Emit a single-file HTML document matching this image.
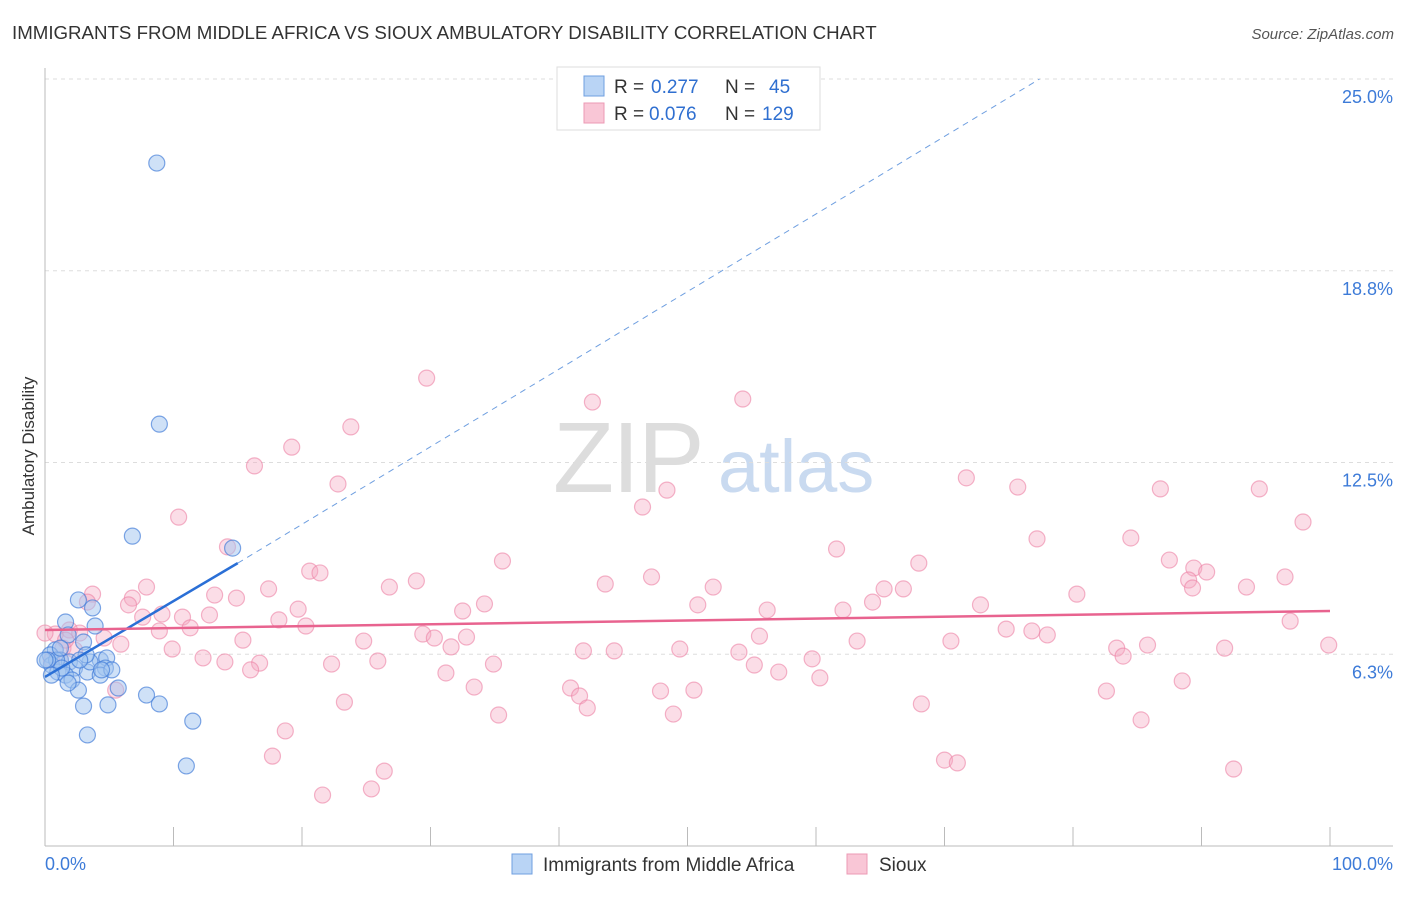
<!DOCTYPE html>
<html><head><meta charset="utf-8"><style>
body{margin:0;background:#fff;font-family:"Liberation Sans",sans-serif}
svg text{font-family:"Liberation Sans",sans-serif}
</style></head><body>
<svg id="chart" width="1406" height="892" xmlns="http://www.w3.org/2000/svg">
<text x="12" y="39" font-size="18.7" fill="#333">IMMIGRANTS FROM MIDDLE AFRICA VS SIOUX AMBULATORY DISABILITY CORRELATION CHART</text>
<text x="1394" y="39" font-size="15" fill="#555" text-anchor="end" font-style="italic">Source: ZipAtlas.com</text>
<g>
<text x="553" y="492" font-size="100" fill="#ddd" font-family="Liberation Serif" letter-spacing="-2">ZIP</text>
<text x="718" y="492" font-size="74" fill="#c9daf0">atlas</text>
</g>
<g id="grid"></g>
<g id="axes"></g>
<g id="marks"></g>
<text transform="translate(34,456) rotate(-90)" font-size="17" fill="#333" text-anchor="middle">Ambulatory Disability</text>
<g>
<rect x="557" y="67" width="263" height="63" fill="#fff" stroke="#ddd"/>
<rect x="584" y="76" width="20" height="20" fill="#b9d4f5" stroke="#6f9fe0"/>
<rect x="584" y="103" width="20" height="20" fill="#f9c6d6" stroke="#ec9ab4"/>
<text x="614" y="93" font-size="19" fill="#333">R =</text>
<text x="651" y="93" font-size="19" fill="#2f6fd0">0.277</text>
<text x="725" y="93" font-size="19" fill="#333">N =</text>
<text x="769" y="93" font-size="19" fill="#2f6fd0">45</text>
<text x="614" y="120" font-size="19" fill="#333">R =</text>
<text x="649" y="120" font-size="19" fill="#2f6fd0">0.076</text>
<text x="725" y="120" font-size="19" fill="#333">N =</text>
<text x="762" y="120" font-size="19" fill="#2f6fd0">129</text>
</g>
<g>
<rect x="512" y="854" width="20" height="20" fill="#b9d4f5" stroke="#6f9fe0"/>
<text x="543" y="871" font-size="19" fill="#333">Immigrants from Middle Africa</text>
<rect x="847" y="854" width="20" height="20" fill="#f9c6d6" stroke="#ec9ab4"/>
<text x="879" y="871" font-size="19" fill="#333">Sioux</text>
</g>
</svg>
<script>
const yTicks=[6.25,12.5,18.75,25];
const yTickLabels=["6.3%","12.5%","18.8%","25.0%"];
const xTickLabels=["0.0%","100.0%"];
const blueX=[8.7,8.9,6.8,14.6,2.6,3.7,1.6,3.9,1.8,3.0,0.8,0.4,1.2,0.5,1.9,2.3,1.0,1.6,2.1,3.3,4.3,4.8,4.7,4.3,3.5,2.6,5.7,7.9,8.9,3.0,4.9,11.5,3.3,11.0,0.9,1.3,0.2,0.5,1.8,3.2,5.2,4.4,1.2,0.0,2.7];
const blueY=[22.26,13.75,10.1,9.71,8.02,7.76,7.3,7.17,6.88,6.65,6.39,6.23,6.06,5.9,6.0,5.8,5.67,5.57,5.41,5.67,6.06,6.13,5.8,5.57,6.0,5.08,5.15,4.92,4.63,4.56,4.6,4.07,3.62,2.61,6.06,5.8,6.06,5.57,5.31,6.23,5.74,5.74,6.45,6.06,6.06];
const siouxX=[29.7,42.6,54.3,23.8,19.2,16.3,22.8,46.5,48.4,71.7,75.7,86.8,94.5,97.9,10.4,14.2,61.6,77.2,84.5,68.0,87.5,89.4,90.4,89.0,89.3,96.5,93.5,35.6,47.2,52.0,43.6,26.8,28.9,20.6,21.4,17.4,14.9,13.2,7.9,6.8,3.7,3.3,6.5,7.6,9.1,10.7,12.8,11.3,8.9,19.7,20.3,18.2,32.5,34.2,50.8,56.2,62.1,64.4,65.3,66.8,72.8,80.3,74.8,76.8,78.0,96.9,99.9,91.8,85.8,83.4,83.9,70.5,63.2,55.6,49.4,44.3,54.0,29.4,30.3,32.8,31.6,24.8,15.4,4.6,5.9,0.8,1.4,1.9,2.3,2.7,0.5,9.9,12.3,14.0,16.7,16.0,22.3,25.9,34.9,31.2,41.9,55.2,57.1,59.7,60.3,82.6,88.5,68.2,50.5,47.9,40.9,41.6,42.2,33.4,35.3,23.3,5.5,18.7,48.9,85.3,70.0,71.0,92.5,26.4,25.4,21.6,17.7,1.2,1.6,0];
const siouxY=[15.25,14.47,14.57,13.66,13.0,12.39,11.8,11.05,11.6,12.0,11.7,11.64,11.64,10.56,10.72,9.75,9.68,10.01,10.04,9.22,9.32,9.06,8.93,8.67,8.41,8.77,8.44,9.29,8.77,8.44,8.54,8.44,8.64,8.96,8.9,8.38,8.08,8.18,8.44,8.08,8.21,7.95,7.86,7.46,7.56,7.46,7.53,7.11,7.01,7.72,7.17,7.37,7.66,7.89,7.86,7.69,7.69,7.95,8.38,8.38,7.86,8.21,7.07,7.01,6.88,7.33,6.55,6.45,6.55,6.45,6.19,6.68,6.68,6.84,6.42,6.36,6.32,6.91,6.78,6.81,6.49,6.68,6.71,6.78,6.58,6.91,6.45,7.04,6.39,6.94,6.06,6.42,6.13,6.0,5.96,5.74,5.93,6.03,5.93,5.64,6.36,5.9,5.67,6.1,5.48,5.05,5.38,4.63,5.08,5.05,5.15,4.89,4.5,5.18,4.27,4.69,5.08,3.75,4.3,4.11,2.8,2.71,2.51,2.44,1.86,1.66,2.93,6.06,6.71,6.94];
const blueTrend=[[0,5.51],[15,9.22],[77.4,25]];
const siouxTrend=[[0,7.04],[100,7.66]];
const NS="http://www.w3.org/2000/svg";
const X=v=>45+v*12.85;
const Y=v=>846-v*30.68;
function mk(tag,attrs,parent){const e=document.createElementNS(NS,tag);for(const k in attrs)e.setAttribute(k,attrs[k]);parent.appendChild(e);return e;}
const grid=document.getElementById('grid'),axes=document.getElementById('axes'),marks=document.getElementById('marks');
yTicks.forEach((t,i)=>{
 const l=mk('line',{x1:45,x2:1393,y1:Y(t),y2:Y(t),stroke:'#ddd','stroke-dasharray':'4,4'},grid);
 
 
 const tx=mk('text',{x:1393,y:Y(t)+24,'font-size':18,fill:'#3d7bd8','text-anchor':'end'},axes);
 tx.textContent=yTickLabels[i];
 
 
});
const ax=mk('line',{x1:45,x2:1393,y1:846,y2:846,stroke:'#bbb'},axes);


const ay=mk('line',{x1:45,x2:45,y1:68,y2:846,stroke:'#bbb'},axes);


for(let i=0;i<=10;i++){const t=mk('line',{x1:X(i*10),x2:X(i*10),y1:827,y2:846,stroke:'#bbb'},axes);
 
 }
const xl0=mk('text',{x:45,y:870,'font-size':18,fill:'#3d7bd8'},axes);xl0.textContent=xTickLabels[0];


const xl1=mk('text',{x:1393,y:870,'font-size':18,fill:'#3d7bd8','text-anchor':'end'},axes);xl1.textContent=xTickLabels[1];


siouxX.forEach((v,i)=>{const c=mk('circle',{cx:X(v),cy:Y(siouxY[i]),r:8,fill:'rgba(246,170,195,0.4)',stroke:'rgba(236,130,165,0.6)','stroke-width':1.2},marks);
 
 });
blueX.forEach((v,i)=>{const c=mk('circle',{cx:X(v),cy:Y(blueY[i]),r:8,fill:'rgba(160,195,240,0.5)',stroke:'rgba(60,120,215,0.65)','stroke-width':1.2},marks);
 
 });
const bl=mk('line',{x1:X(blueTrend[0][0]),y1:Y(blueTrend[0][1]),x2:X(blueTrend[1][0]),y2:Y(blueTrend[1][1]),stroke:'#2a6fd6','stroke-width':2.5},marks);


const bd=mk('line',{x1:X(blueTrend[1][0]),y1:Y(blueTrend[1][1]),x2:X(blueTrend[2][0]),y2:Y(blueTrend[2][1]),stroke:'#6f9fe0','stroke-width':1,'stroke-dasharray':'6,5'},marks);


const pl=mk('line',{x1:X(siouxTrend[0][0]),y1:Y(siouxTrend[0][1]),x2:X(siouxTrend[1][0]),y2:Y(siouxTrend[1][1]),stroke:'#e8638f','stroke-width':2.5},marks);


</script>
</body></html>
